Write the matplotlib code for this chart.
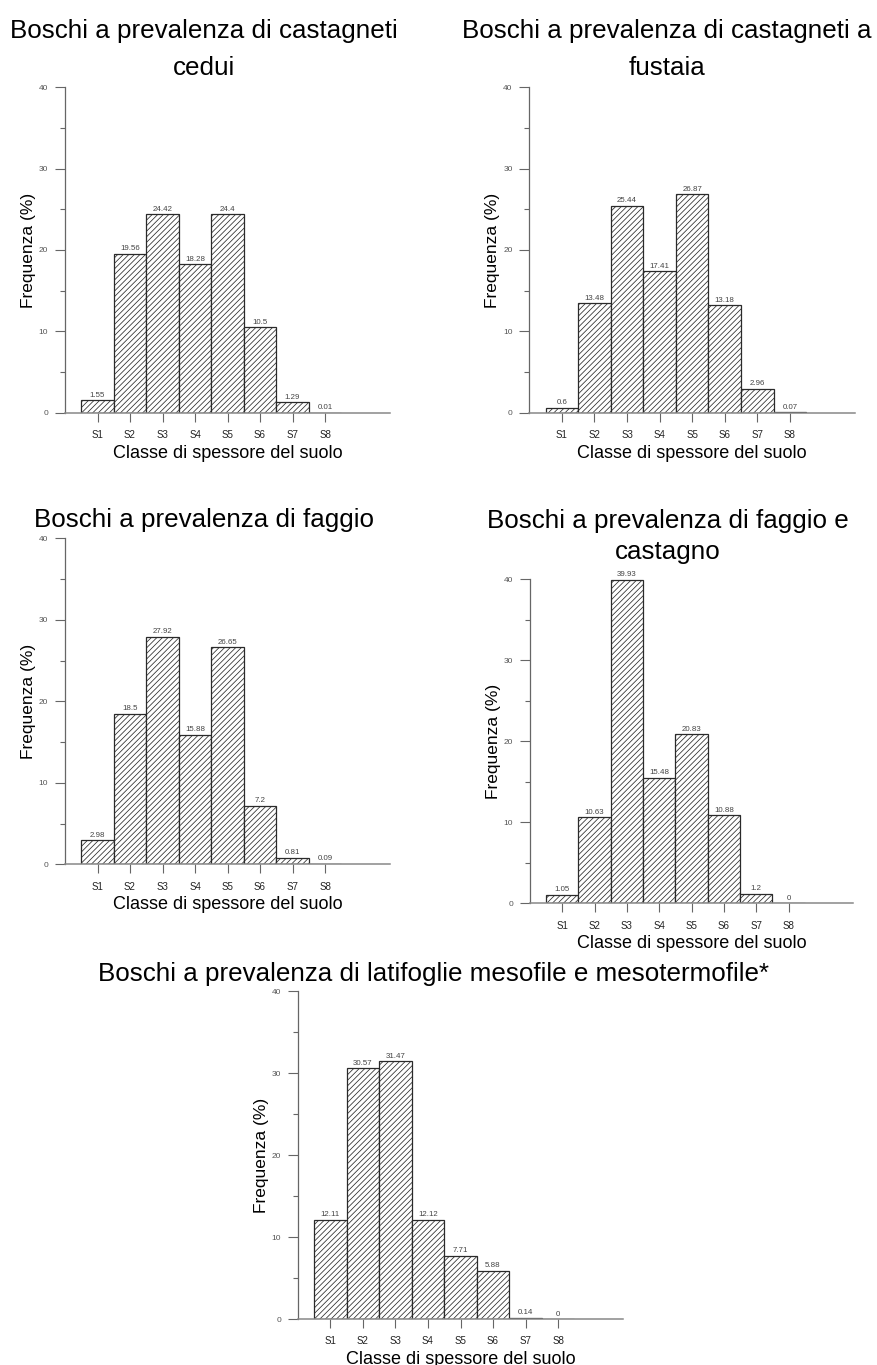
import matplotlib
matplotlib.use("Agg")
import matplotlib.pyplot as plt
from matplotlib.ticker import MultipleLocator

plt.rcParams['font.family'] = ['Liberation Sans', 'DejaVu Sans']
plt.rcParams['hatch.linewidth'] = 0.55

classes = ['S1', 'S2', 'S3', 'S4', 'S5', 'S6', 'S7', 'S8']
cedui = [1.55, 19.56, 24.42, 18.28, 24.4, 10.5, 1.29, 0.01]
fustaia = [0.6, 13.48, 25.44, 17.41, 26.87, 13.18, 2.96, 0.07]
faggio = [2.98, 18.5, 27.92, 15.88, 26.65, 7.2, 0.81, 0.09]
faggio_castagno = [1.05, 10.63, 39.93, 15.48, 20.83, 10.88, 1.2, 0]
latifoglie = [12.11, 30.57, 31.47, 12.12, 7.71, 5.88, 0.14, 0]

titles = [
    ["Boschi a prevalenza di castagneti", "cedui"],
    ["Boschi a prevalenza di castagneti a", "fustaia"],
    ["Boschi a prevalenza di faggio"],
    ["Boschi a prevalenza di faggio e", "castagno"],
    ["Boschi a prevalenza di latifoglie mesofile e mesotermofile*"],
]
series = [cedui, fustaia, faggio, faggio_castagno, latifoglie]

W, H = 877, 1365
# axes boxes in pixels: left, right, top, bottom
boxes = [
    (65, 390, 87.3, 412.7),
    (529.3, 855, 87.3, 412.7),
    (65, 390, 538.3, 864.3),
    (530, 853.3, 579, 903.3),
    (297.7, 623.3, 991, 1319),
]
# title positions: center x, baselines
title_pos = [
    (204, [38, 75]),
    (667, [38, 75]),
    (204, [527]),
    (668, [528, 559]),
    (433, [981]),
]

fig = plt.figure(figsize=(W / 100, H / 100), dpi=100)

for vals, (l, r, t, b), ttl, (tx, tys) in zip(series, boxes, titles, title_pos):
    ax = fig.add_axes([l / W, 1 - b / H, (r - l) / W, (b - t) / H])
    x = list(range(1, len(classes) + 1))
    bars = ax.bar(x, vals, width=1.0, facecolor='white', edgecolor='#2a2a2a',
                  linewidth=0.9, hatch='//////')
    ax.bar_label(bars, labels=[f"{v:g}" for v in vals], padding=1,
                 fontsize=5.7, color='#444444')
    ax.set_xlim(0, 10)
    ax.set_ylim(0, 40)
    ax.set_xticks(x)
    ax.set_xticklabels(classes, fontsize=7, color='#222222')
    ax.yaxis.set_major_locator(MultipleLocator(10))
    ax.yaxis.set_minor_locator(MultipleLocator(5))
    ax.tick_params(axis='y', which='major', length=7, width=0.8, color='#666666',
                   labelsize=6, labelcolor='#555555', pad=5)
    ax.tick_params(axis='y', which='minor', length=3.5, width=0.8, color='#666666')
    ax.tick_params(axis='x', which='major', length=6.5, width=0.8, color='#666666',
                   pad=6)
    for s in ['top', 'right']:
        ax.spines[s].set_visible(False)
    ax.spines['left'].set_color('#666666')
    ax.spines['bottom'].set_color('#888888')
    ax.spines['left'].set_linewidth(0.9)
    ax.spines['bottom'].set_linewidth(1.1)
    ax.set_ylabel("Frequenza (%)", fontsize=12.5)
    ax.set_xlabel("Classe di spessore del suolo", fontsize=13)
    axw, axh = r - l, b - t
    ax.yaxis.set_label_coords(-29 / axw, 0.5)
    ax.xaxis.set_label_coords(0.5, -32 / axh)
    ax.xaxis.label.set_va('top')
    for line, ty in zip(ttl, tys):
        fig.text(tx / W, 1 - ty / H, line, ha='center', va='baseline', fontsize=18.7)

fig.savefig("out.png", dpi=100, facecolor='white')
